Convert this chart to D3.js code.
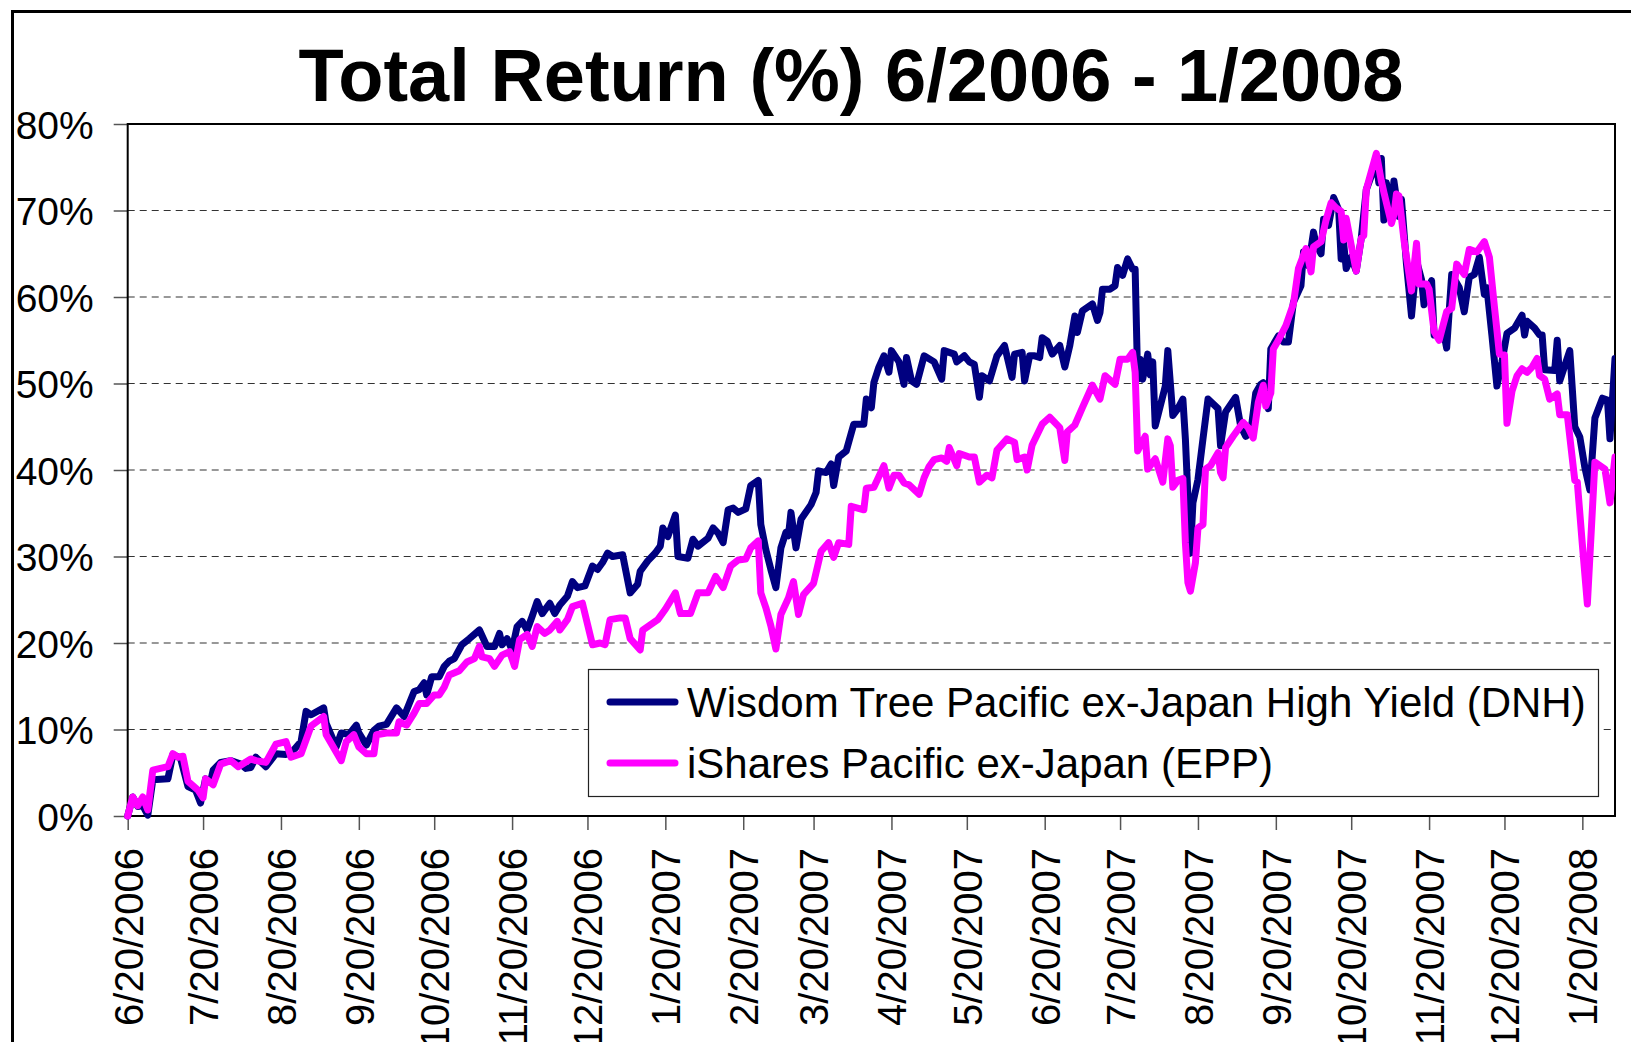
<!DOCTYPE html>
<html>
<head>
<meta charset="utf-8">
<script src="https://cdn.jsdelivr.net/npm/d3@7"></script>
<style>
  body { margin: 0; background: #fff; }
  svg { display: block; font-family: "Liberation Sans", Arial, sans-serif; }
</style>
</head>
<body>
<svg id="chart"></svg>
<script>
// Chart size
const width = 1631;
const height = 1042;

// Data: days since 6/20/2006 and total return (%)
const startDate = "6/20/2006";
const endOffset = 592;

const dnhDay = [0,2,4,6,8,10,16,18,21,24,27,29,31,33,34,37,41,45,47,49,51,55,59,63,66,69,71,73,78,79,83,85,88,91,92,95,98,100,103,107,110,114,116,118,119,121,124,126,128,130,133,136,140,143,146,148,149,151,153,155,157,159,161,163,165,168,170,172,175,177,179,182,185,187,189,191,193,197,200,203,204,207,210,212,213,215,218,219,223,225,227,231,233,235,237,239,241,243,246,248,251,252,254,256,258,260,262,263,264,266,268,272,274,275,278,280,281,283,286,289,293,294,296,297,299,301,303,304,307,309,310,312,314,317,321,324,325,329,330,333,335,337,339,340,343,346,349,352,353,356,357,359,361,363,364,366,368,371,373,375,377,378,380,384,386,387,388,391,393,394,396,398,400,401,402,403,404,406,407,408,409,413,414,416,418,420,421,423,424,426,428,430,434,435,437,441,443,445,447,449,451,452,454,455,458,460,462,464,467,468,470,472,473,475,476,478,480,482,483,484,485,487,489,491,493,497,498,499,500,501,503,504,506,507,509,511,513,515,516,519,520,522,524,525,527,530,532,534,536,538,540,541,543,545,547,549,552,555,556,557,560,562,563,564,568,569,570,574,576,578,580,582,584,587,589,590,592];
const dnhReturn = [0,2.2,1.1,1.2,0.1,4.2,4.3,7.1,6.7,3.4,3.0,1.5,4.3,4.0,5.3,6.2,6.4,6.0,5.5,5.6,6.8,5.7,7.2,7.1,7.6,8.6,12.1,11.7,12.5,10.7,8.0,9.6,9.4,10.5,9.6,8.2,9.9,10.4,10.6,12.5,11.5,14.4,14.6,15.4,14.0,16.1,16.1,17.3,17.9,18.2,19.8,20.5,21.5,19.6,19.6,21.1,19.8,20.5,19.2,21.9,22.5,21.5,23.1,24.8,23.4,24.6,23.4,24.4,25.4,27.1,26.4,26.6,28.9,28.5,29.3,30.4,30.0,30.2,25.8,26.8,28.3,29.5,30.4,31.2,33.3,32.3,34.8,30.0,29.8,32.0,31.2,32.1,33.3,32.7,31.6,35.4,35.6,35.1,35.5,38.2,38.8,33.7,30.8,28.5,26.4,31.0,32.8,32.4,35.1,31.0,34.3,36.0,37.4,39.9,39.7,40.7,38.2,41.5,42.2,45.3,45.3,48.2,47.2,50.1,51.9,53.2,51.3,53.8,52.5,49.9,53.0,50.3,49.9,53.2,52.5,50.5,53.8,53.4,52.5,53.2,52.5,52.2,48.4,50.9,50.3,53.2,54.4,50.7,53.4,53.6,50.3,53.2,53.2,53.0,55.3,54.9,53.4,54.4,51.9,54.4,57.8,55.9,58.4,59.2,57.3,58.2,60.9,60.9,61.3,63.4,62.5,64.4,63.2,63.2,50.5,52.8,50.5,53.4,51.0,52.5,45.1,49.7,53.8,46.3,47.1,48.2,43.6,30.4,36.2,38.9,43.6,48.2,47.1,42.8,46.7,48.4,45.1,43.9,44.3,48.9,49.9,50.1,47.1,54.0,55.5,54.8,54.8,59.4,61.3,65.2,63.6,67.5,66.1,65.0,69.0,68.3,71.5,70.1,64.4,66.2,63.3,64.6,63.0,66.8,72.4,75.6,73.2,76.0,68.9,73.2,69.7,73.4,69.3,71.3,63.8,57.8,64.2,62.0,59.1,61.9,55.6,55.6,55.6,54.1,62.6,61.1,58.3,62.3,62.6,64.6,60.3,61.1,55.6,49.7,52.5,55.8,56.4,57.9,55.6,57.2,56.4,55.6,55.6,51.6,51.5,55.0,50.3,53.8,45.0,43.8,40.3,37.7,46.0,48.3,48.1,43.6,52.9];

const eppDay = [0,2,4,6,8,10,16,18,20,22,24,28,30,31,34,37,41,44,49,51,55,59,63,65,69,73,78,79,85,87,90,92,95,98,99,103,107,108,111,114,116,119,122,124,126,128,132,135,138,140,141,144,146,149,152,154,156,159,161,163,166,168,171,172,175,177,181,185,188,190,192,196,198,200,204,205,208,211,214,218,220,224,227,231,234,237,240,243,246,248,251,252,254,256,258,260,263,265,267,269,273,276,279,281,283,287,288,293,294,297,301,303,305,307,309,311,315,317,319,321,324,326,327,330,331,335,337,339,342,344,346,350,353,354,357,358,360,364,367,371,373,374,377,380,384,387,389,393,395,398,400,401,402,405,406,409,412,414,415,416,418,420,421,422,423,425,426,428,429,431,434,435,436,437,440,444,446,448,450,452,453,455,456,458,461,464,466,469,471,472,475,477,479,481,483,484,485,487,489,491,492,493,497,499,500,503,504,505,506,508,511,513,514,517,518,520,522,525,527,529,532,534,537,540,542,544,546,548,549,551,553,555,557,559,561,562,564,566,569,570,573,576,577,579,581,584,588,590,592];
const eppReturn = [0,2.2,1.2,2.2,0.7,5.3,5.7,7.2,6.8,6.9,4.0,3.0,2.1,4.3,3.6,6.0,6.4,5.7,6.6,6.4,6.2,8.3,8.6,6.8,7.2,10.4,11.5,9.4,6.4,8.6,9.4,8.0,7.2,7.2,9.4,9.6,9.6,10.9,10.5,11.9,13.0,13.0,14.0,14.0,14.9,16.3,16.8,17.8,18.2,19.6,18.4,18.2,17.3,18.6,19.0,17.3,20.4,21.0,19.6,21.9,21.1,21.5,22.5,21.5,22.7,24.2,24.6,19.8,20.0,19.8,22.7,22.9,22.9,20.5,19.2,21.5,22.1,22.7,23.9,25.8,23.4,23.4,25.8,25.8,27.7,26.4,28.9,29.6,29.7,31.0,31.8,25.8,24.1,22.0,19.3,23.3,25.2,27.1,23.3,25.6,26.9,30.6,31.6,29.9,31.6,31.4,35.8,35.4,37.9,38.0,40.5,37.9,39.4,39.4,38.5,38.3,37.2,39.1,40.4,41.2,41.4,41.0,42.6,40.5,41.9,41.5,41.5,38.6,39.4,39.1,42.3,43.6,43.2,41.2,41.5,40.0,42.9,45.3,46.1,44.9,41.1,44.4,45.2,47.2,49.8,48.2,50.9,49.9,52.8,52.8,53.6,51.3,42.2,43.9,40.1,41.3,38.6,43.6,42.8,38.0,38.8,39.0,31.6,27.0,26.0,29.3,33.3,33.7,40.1,40.5,42.0,39.7,39.1,42.6,43.9,45.5,44.9,43.7,47.8,49.8,47.4,48.9,54.0,55.0,56.7,59.2,63.3,65.6,62.9,65.8,66.4,68.9,70.9,70.3,69.9,66.6,69.1,66.0,63.0,66.8,67.1,72.4,76.6,73.4,72.1,68.5,69.5,71.9,71.7,66.6,60.7,66.2,61.5,61.5,60.9,56.0,55.0,58.3,58.7,63.8,62.6,65.5,65.2,66.4,64.6,58.9,53.4,53.3,45.4,49.1,50.9,51.7,51.3,51.9,52.9,50.9,50.5,48.2,48.8,46.4,46.4,38.8,38.6,31.4,24.5,40.9,40.1,36.2,41.5];

const seriesNames = ["Wisdom Tree Pacific ex-Japan High Yield (DNH)", "iShares Pacific ex-Japan (EPP)"];
const seriesColors = ["#000080", "#ff00ff"];

const tickLabels = ["6/20/2006","7/20/2006","8/20/2006","9/20/2006","10/20/2006","11/20/2006","12/20/2006","1/20/2007","2/20/2007","3/20/2007","4/20/2007","5/20/2007","6/20/2007","7/20/2007","8/20/2007","9/20/2007","10/20/2007","11/20/2007","12/20/2007","1/20/2008"];
const yTicks = [0, 10, 20, 30, 40, 50, 60, 70, 80];

const parseDate = d3.timeParse("%-m/%-d/%Y");
const start = parseDate(startDate);

// Plot area
const plotLeft = 127.7, plotRight = 1615, plotTop = 124, plotBottom = 816;

const svg = d3.select("#chart")
  .attr("width", width)
  .attr("height", height);

// Outer chart border (runs off the right and bottom of the picture)
svg.append("rect")
  .attr("x", 12.5).attr("y", 11.5)
  .attr("width", width + 20).attr("height", height + 20)
  .attr("fill", "none").attr("stroke", "#000").attr("stroke-width", 3);

// Scales
const x = d3.scaleTime()
  .domain([start, d3.timeDay.offset(start, endOffset)])
  .range([plotLeft, plotRight]);

const y = d3.scaleLinear()
  .domain([0, 80])
  .range([plotBottom, plotTop]);

// Title
svg.append("text")
  .attr("x", 851).attr("y", 101)
  .attr("text-anchor", "middle")
  .style("font-size", "74px").style("font-weight", "bold")
  .text("Total Return (%) 6/2006 - 1/2008");

// Gridlines
svg.append("g")
  .selectAll("line")
  .data(yTicks.filter(d => d > 0 && d < 80))
  .join("line")
  .attr("x1", plotLeft).attr("x2", plotRight)
  .attr("y1", d => y(d)).attr("y2", d => y(d))
  .attr("stroke", "#333").attr("stroke-width", 1.2)
  .attr("stroke-dasharray", "7,5");

// Y axis
const yAxis = svg.append("g")
  .attr("transform", `translate(${plotLeft},0)`)
  .call(d3.axisLeft(y).tickValues(yTicks).tickSize(14).tickPadding(20).tickFormat(d => d + "%"));
yAxis.select(".domain").remove();
yAxis.selectAll(".tick line").attr("stroke", "#555").attr("stroke-width", 1.5);
yAxis.selectAll("text")
  .style("font-size", "39px").style("font-family", "\"Liberation Sans\", Arial, sans-serif")
  .attr("dy", "0.36em").attr("fill", "#000");

// X axis
const xAxis = svg.append("g")
  .attr("transform", `translate(0,${plotBottom})`)
  .call(d3.axisBottom(x).tickValues(tickLabels.map(parseDate)).tickSize(14).tickFormat(d3.timeFormat("%-m/%-d/%Y")));
xAxis.select(".domain").remove();
xAxis.selectAll(".tick line").attr("stroke", "#555").attr("stroke-width", 1.5);
xAxis.selectAll("text")
  .style("font-size", "40px").style("font-family", "\"Liberation Sans\", Arial, sans-serif")
  .attr("fill", "#000")
  .attr("text-anchor", "end")
  .attr("transform", "rotate(-90)")
  .attr("x", -32).attr("y", 0).attr("dy", "0.36em");

// Plot frame
svg.append("rect")
  .attr("x", plotLeft).attr("y", plotTop)
  .attr("width", plotRight - plotLeft).attr("height", plotBottom - plotTop)
  .attr("fill", "none").attr("stroke", "#000").attr("stroke-width", 2);

// Lines
const line = d3.line()
  .x(d => x(d3.timeDay.offset(start, d[0])))
  .y(d => y(d[1]));

const series = [d3.zip(dnhDay, dnhReturn), d3.zip(eppDay, eppReturn)];

svg.append("defs").append("clipPath").attr("id", "plot-clip")
  .append("rect").attr("x", plotLeft - 4).attr("y", plotTop)
  .attr("width", plotRight - plotLeft + 4).attr("height", plotBottom - plotTop + 4);

svg.append("g").attr("clip-path", "url(#plot-clip)")
  .selectAll("path")
  .data(series)
  .join("path")
  .attr("d", line)
  .attr("fill", "none")
  .attr("stroke", (d, i) => seriesColors[i])
  .attr("stroke-width", 7)
  .attr("stroke-linejoin", "round")
  .attr("stroke-linecap", "round");

// Legend
const legend = svg.append("g");
legend.append("rect")
  .attr("x", 588.5).attr("y", 669.5).attr("width", 1010).attr("height", 127)
  .attr("fill", "#fff").attr("stroke", "#222").attr("stroke-width", 1.2);

seriesNames.forEach((name, i) => {
  const ly = 702 + i * 61;
  legend.append("line")
    .attr("x1", 610).attr("x2", 675).attr("y1", ly).attr("y2", ly)
    .attr("stroke", seriesColors[i]).attr("stroke-width", 7).attr("stroke-linecap", "round");
  legend.append("text")
    .attr("x", 687).attr("y", ly + 15)
    .style("font-size", "42px")
    .text(name);
});
</script>
</body>
</html>
